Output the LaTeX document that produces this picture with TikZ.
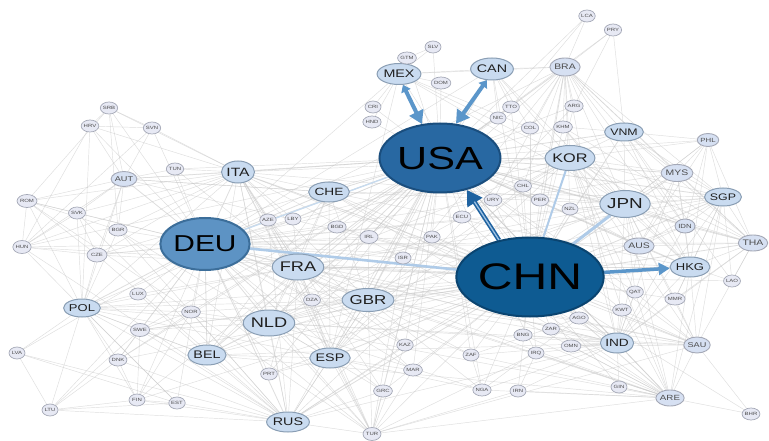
\documentclass[tikz,border=0pt]{standalone}
\usepackage{fontspec}
\newfontfamily\lab[FakeStretch=1.3]{Liberation Sans}
\usetikzlibrary{shapes.geometric,arrows.meta}
\definecolor{smfill}{HTML}{E7E9F4}
\definecolor{smdraw}{HTML}{A4A8B6}
\definecolor{mdfill}{HTML}{C9DBF0}
\definecolor{mddraw}{HTML}{8A9EB4}
\definecolor{mlfill}{HTML}{D6E0F2}
\definecolor{usafill}{HTML}{2868A2}
\definecolor{usadraw}{HTML}{1A4E7E}
\definecolor{chnfill}{HTML}{0E5B92}
\definecolor{chndraw}{HTML}{0A4470}
\definecolor{deufill}{HTML}{5D93C4}
\definecolor{deudraw}{HTML}{3C6E9A}
\definecolor{edgec}{HTML}{C8C8C8}
\definecolor{arrc}{HTML}{5B96CA}
\definecolor{arrd}{HTML}{1E62A0}
\definecolor{lightarr}{HTML}{AFCBE8}
\pgfdeclarelayer{bglayer}
\pgfdeclarelayer{edgelayer}
\pgfdeclarelayer{arrowlayer}
\pgfsetlayers{bglayer,edgelayer,arrowlayer,main}
\begin{document}
\begin{tikzpicture}[x=1pt,y=-1pt,
  fs/.style={font=\lab\fontsize{#1}{#1}\selectfont},
  sm/.style 2 args={ellipse, draw=smdraw, fill=smfill, line width=0.7pt, inner sep=0pt,
     minimum width=#1pt, minimum height=#2pt, fs=4.6, text=black!70},
  md/.style 2 args={ellipse, draw=mddraw, fill=mdfill, line width=1pt, inner sep=0pt,
     minimum width=#1pt, minimum height=#2pt, text=black!88},
  ml/.style 2 args={ellipse, draw=smdraw, fill=mlfill, line width=0.9pt, inner sep=0pt,
     minimum width=#1pt, minimum height=#2pt, text=black!70},
  big/.style={ellipse, inner sep=0pt, line width=2pt, text=black},
  lnk/.style={draw=edgec, line width=0.45pt, opacity=0.6},
  lnkb/.style={draw=edgec, line width=0.8pt, opacity=0.6}]
\begin{pgfonlayer}{bglayer}
\fill[white] (0,0) rectangle (769,441);
\end{pgfonlayer}
\useasboundingbox (0,0) rectangle (769,441);
% big nodes
\node[big, draw=usadraw, fill=usafill, minimum width=93pt, minimum height=69pt, fs=32] (USA) at (440,158) {USA};
\node[big, draw=chndraw, fill=chnfill, minimum width=112pt, minimum height=79pt, fs=37] (CHN) at (530,277) {CHN};
\node[big, draw=deudraw, fill=deufill, minimum width=71pt, minimum height=52pt, fs=23] (DEU) at (205,244) {DEU};
% medium nodes
\node[md={33}{22}, fs=12] (ITA) at (238,172) {ITA};
\node[md={27}{20}, fs=10.5] (CHE) at (329,192) {CHE};
\node[md={36}{26}, fs=14] (FRA) at (298,267) {FRA};
\node[md={33}{23}, fs=13] (GBR) at (368,300) {GBR};
\node[md={38}{26}, fs=14] (NLD) at (269,323) {NLD};
\node[md={28}{20}, fs=11] (BEL) at (207,355) {BEL};
\node[md={28}{20}, fs=11] (ESP) at (330,358) {ESP};
\node[md={28}{20}, fs=11] (RUS) at (288,422) {RUS};
\node[md={32}{21}, fs=11] (MEX) at (399,74) {MEX};
\node[md={32}{22}, fs=11] (CAN) at (492,69) {CAN};
\node[md={34}{25}, fs=12.5] (KOR) at (570,158) {KOR};
\node[md={37}{27}, fs=14.5] (JPN) at (625,204) {JPN};
\node[md={28}{18}, fs=9.5] (VNM) at (624,132) {VNM};
\node[md={25}{18}, fs=9.5] (SGP) at (723,197) {SGP};
\node[md={28}{20}, fs=10] (HKG) at (690,267) {HKG};
\node[md={29}{20}, fs=10.5] (IND) at (617,343) {IND};
\node[md={27}{18}, fs=10] (POL) at (82,308) {POL};
\node[ml={25}{18}, fs=8] (BRA) at (565,67) {BRA};
\node[ml={24}{17}, fs=8] (MYS) at (677,173) {MYS};
\node[ml={23}{16}, fs=8] (AUS) at (639,246) {AUS};
\node[ml={22}{16}, fs=8] (THA) at (753,243) {THA};
\node[ml={22}{15}, fs=7] (AUT) at (124,179) {AUT};
\node[ml={22}{16}, fs=7] (SAU) at (697,345) {SAU};
\node[ml={22}{16}, fs=7.5] (ARE) at (670,398) {ARE};
\node[ml={19}{13}, fs=6] (PHL) at (708,140) {PHL};
\node[ml={20}{14}, fs=6] (IDN) at (685,226) {IDN};
% small nodes
\node[sm={16}{12}] (LCA) at (587,16) {LCA};
\node[sm={16}{12}] (PRY) at (613,30) {PRY};
\node[sm={16}{12}] (GTM) at (407,58) {GTM};
\node[sm={16}{12}] (SLV) at (433,47) {SLV};
\node[sm={16}{12}] (DOM) at (441,83) {DOM};
\node[sm={16}{12}] (CRI) at (373,107) {CRI};
\node[sm={16}{12}] (HND) at (372,122) {HND};
\node[sm={16}{12}] (TTO) at (511,107) {TTO};
\node[sm={16}{12}] (NIC) at (498,118) {NIC};
\node[sm={16}{12}] (COL) at (530,128) {COL};
\node[sm={16}{12}] (ARG) at (574,106) {ARG};
\node[sm={16}{12}] (KHM) at (563,127) {KHM};
\node[sm={16}{12}] (SRB) at (109,108) {SRB};
\node[sm={17}{12}] (HRV) at (90,126) {HRV};
\node[sm={17}{12}] (SVN) at (152,128) {SVN};
\node[sm={16}{12}] (TUN) at (175,169) {TUN};
\node[sm={20}{13}] (ROM) at (27,201) {ROM};
\node[sm={17}{12}] (SVK) at (77,213) {SVK};
\node[sm={16}{12}] (BGR) at (118,230) {BGR};
\node[sm={18}{13}] (HUN) at (22,247) {HUN};
\node[sm={20}{14}] (CZE) at (97,255) {CZE};
\node[sm={16}{12}] (LUX) at (138,294) {LUX};
\node[sm={18}{12}] (NOR) at (191,312) {NOR};
\node[sm={18}{13}] (SWE) at (140,330) {SWE};
\node[sm={16}{12}] (LVA) at (17,353) {LVA};
\node[sm={17}{12}] (DNK) at (118,360) {DNK};
\node[sm={16}{12}] (FIN) at (137,400) {FIN};
\node[sm={16}{12}] (EST) at (177,403) {EST};
\node[sm={16}{12}] (LTU) at (50,410) {LTU};
\node[sm={16}{12}] (AZE) at (268,220) {AZE};
\node[sm={16}{12}] (LBY) at (293,219) {LBY};
\node[sm={16}{12}] (BGD) at (337,227) {BGD};
\node[sm={18}{13}] (IRL) at (369,237) {IRL};
\node[sm={16}{12}] (PAK) at (432,237) {PAK};
\node[sm={16}{12}] (ISR) at (403,258) {ISR};
\node[sm={16}{12}] (ECU) at (462,217) {ECU};
\node[sm={16}{12}] (URY) at (493,200) {URY};
\node[sm={16}{12}] (CHL) at (523,186) {CHL};
\node[sm={16}{12}] (PER) at (540,200) {PER};
\node[sm={16}{12}] (NZL) at (570,209) {NZL};
\node[sm={16}{12}] (DZA) at (312,300) {DZA};
\node[sm={16}{12}] (PRT) at (269,374) {PRT};
\node[sm={16}{12}] (KAZ) at (405,345) {KAZ};
\node[sm={16}{12}] (ZAF) at (471,355) {ZAF};
\node[sm={16}{12}] (MAR) at (413,370) {MAR};
\node[sm={17}{12}] (GRC) at (383,391) {GRC};
\node[sm={16}{12}] (NGA) at (482,390) {NGA};
\node[sm={16}{12}] (IRN) at (518,391) {IRN};
\node[sm={18}{13}] (TUR) at (372,434) {TUR};
\node[sm={16}{12}] (BNG) at (523,335) {BNG};
\node[sm={16}{12}] (ZAR) at (551,329) {ZAR};
\node[sm={16}{12}] (IRQ) at (536,353) {IRQ};
\node[sm={16}{12}] (AGO) at (579,318) {AGO};
\node[sm={16}{12}] (OMN) at (571,346) {OMN};
\node[sm={16}{12}] (QAT) at (635,292) {QAT};
\node[sm={16}{12}] (KWT) at (622,310) {KWT};
\node[sm={16}{12}] (MMR) at (675,299) {MMR};
\node[sm={16}{12}] (LAO) at (732,281) {LAO};
\node[sm={16}{12}] (GIN) at (619,387) {GIN};
\node[sm={16}{12}] (BHR) at (751,414) {BHR};
% grey links
\begin{pgfonlayer}{edgelayer}
\foreach \b in {MEX,CAN,BRA,KOR,JPN,VNM,CHE,ITA,FRA,GBR,NLD,IND,ISR,IRL,SGP,HKG,ARE,ESP,BEL,DEU,MYS,THA,AUS}
  \draw[lnkb] (USA) -- (\b);
\foreach \b in {GTM,SLV,DOM,CRI,HND,TTO,NIC,COL,ARG,KHM,CHL,PER,URY,ECU,PHL,IDN,SAU,PAK,BGD,NGA,ZAF,RUS,TUR,AUT,SWE,NZL,LCA,PRY,AGO,POL,DNK,NOR,FIN,IRQ,KWT,QAT,GRC,PRT,DZA,MAR,TUN,LBY,AZE,KAZ,HUN,CZE}
  \draw[lnk] (USA) -- (\b);
\foreach \b in {JPN,KOR,VNM,MYS,SGP,THA,AUS,IND,BRA,RUS,GBR,FRA,NLD,ITA,ESP,SAU,ARE}
  \draw[lnkb] (CHN) -- (\b);
\foreach \b in {IDN,PHL,BEL,CHE,CAN,MEX,IRN,ZAF,AGO,OMN,IRQ,KWT,QAT,MMR,LAO,BNG,ZAR,NGA,PAK,BGD,CHL,PER,ARG,COL,KHM,NZL,TUR,KAZ,ECU,URY,POL,GIN,MAR,DZA,ISR,IRL,PRT,GRC,BHR,SWE,AUT,CZE,HUN,TTO,DNK,FIN}
  \draw[lnk] (CHN) -- (\b);
\foreach \b in {FRA,NLD,ITA,CHE,AUT,POL,CZE,BEL,ESP,GBR,RUS}
  \draw[lnkb] (DEU) -- (\b);
\foreach \b in {SWE,DNK,HUN,SVK,ROM,BGR,SVN,HRV,SRB,LUX,NOR,FIN,EST,LVA,LTU,TUR,GRC,PRT,IRL,ISR,DZA,AZE,LBY,TUN,KAZ,ZAF,BRA,MEX,CAN,KOR,JPN,IND,SGP,HKG,ARE,SAU,PAK,MAR,BGD,VNM,MYS,THA,AUS}
  \draw[lnk] (DEU) -- (\b);
\foreach \a/\b in {FRA/ITA,FRA/ESP,FRA/BEL,FRA/GBR,FRA/CHE,FRA/NLD,FRA/DZA,FRA/MAR,FRA/TUN,FRA/RUS,FRA/POL,FRA/LUX,FRA/PRT,FRA/TUR,FRA/KOR,FRA/JPN,FRA/IND,FRA/ARE,FRA/SAU,FRA/HKG,FRA/SGP,FRA/KAZ,FRA/AZE,FRA/LBY,
  NLD/BEL,NLD/GBR,NLD/RUS,NLD/NOR,NLD/SWE,NLD/ESP,NLD/ITA,NLD/POL,NLD/KOR,NLD/JPN,NLD/SGP,NLD/SAU,NLD/IND,NLD/BRA,NLD/TUR,NLD/ARE,NLD/NGA,
  GBR/IRL,GBR/ESP,GBR/BEL,GBR/IND,GBR/HKG,GBR/ARE,GBR/SAU,GBR/NOR,GBR/ISR,GBR/JPN,GBR/KOR,GBR/TUR,GBR/CHE,GBR/ZAF,GBR/NGA,GBR/SWE,GBR/ITA,GBR/RUS,GBR/CAN,
  ITA/CHE,ITA/AUT,ITA/ESP,ITA/ROM,ITA/SVN,ITA/HRV,ITA/SRB,ITA/TUN,ITA/LBY,ITA/TUR,ITA/RUS,ITA/POL,ITA/BEL,ITA/GRC,ITA/AZE,ITA/DZA,ITA/BGR,ITA/CZE,ITA/HUN,ITA/SVK,ITA/ARE,ITA/SAU,ITA/KOR,ITA/JPN,
  CHE/AUT,CHE/ESP,CHE/HKG,CHE/IND,CHE/ARE,CHE/JPN,CHE/SGP,CHE/BEL,CHE/NLD,
  ESP/PRT,ESP/BEL,ESP/MAR,ESP/DZA,ESP/TUR,ESP/BRA,ESP/MEX,ESP/NGA,ESP/POL,ESP/RUS,ESP/ARG,ESP/CHL,
  BEL/LUX,BEL/POL,BEL/SWE,BEL/RUS,BEL/IND,BEL/ARE,BEL/ISR,
  RUS/LTU,RUS/LVA,RUS/FIN,RUS/TUR,RUS/KAZ,RUS/POL,RUS/EST,RUS/BGR,RUS/GRC,RUS/JPN,RUS/KOR,RUS/IND,RUS/AZE,RUS/HUN,RUS/CZE,RUS/SVK,RUS/SWE,RUS/DNK,RUS/NOR}
  \draw[lnk] (\a) -- (\b);
\foreach \a/\b in {POL/CZE,POL/LTU,POL/LVA,POL/SWE,POL/HUN,POL/SVK,POL/DNK,POL/NOR,POL/FIN,POL/EST,POL/ROM,POL/BGR,POL/AUT,POL/HRV,POL/GBR,POL/LUX,
  AUT/HUN,AUT/CZE,AUT/SVK,AUT/SVN,AUT/HRV,AUT/SRB,AUT/ROM,AUT/BGR,AUT/TUN,AUT/CHE,
  HRV/SVN,SRB/HRV,SRB/BGR,SRB/SVN,SRB/ROM,SVN/HUN,ROM/HUN,ROM/BGR,ROM/SVK,ROM/CZE,HUN/SVK,HUN/CZE,CZE/SVK,HRV/HUN,
  SWE/NOR,SWE/DNK,SWE/FIN,FIN/EST,DNK/NOR,LTU/LVA,LVA/EST,LTU/EST,FIN/NOR,DNK/FIN,DNK/LTU,SWE/LTU,
  TUR/GRC,TUR/IRQ,TUR/IRN,TUR/ARE,TUR/SAU,TUR/AZE,TUR/ISR,TUR/KAZ,TUR/BGR,TUR/ROM,
  JPN/KOR,JPN/HKG,JPN/SGP,JPN/THA,JPN/AUS,JPN/IDN,JPN/MYS,JPN/PHL,JPN/VNM,JPN/IND,JPN/SAU,JPN/ARE,JPN/QAT,JPN/NZL,JPN/BRA,JPN/CAN,JPN/MEX,JPN/CHL,JPN/KHM,JPN/MMR,
  KOR/VNM,KOR/HKG,KOR/SGP,KOR/MYS,KOR/IDN,KOR/AUS,KOR/IND,KOR/SAU,KOR/PHL,KOR/THA,KOR/BRA,KOR/MEX,KOR/QAT,KOR/KWT,KOR/CHL,KOR/ARE}
  \draw[lnk] (\a) -- (\b);
\foreach \a/\b in {SGP/MYS,SGP/IDN,SGP/THA,SGP/HKG,SGP/PHL,SGP/VNM,SGP/IND,SGP/AUS,SGP/ARE,SGP/SAU,SGP/MMR,SGP/LAO,
  THA/MYS,THA/LAO,THA/MMR,THA/VNM,THA/IDN,THA/HKG,THA/PHL,THA/AUS,THA/IND,THA/KHM,
  HKG/VNM,HKG/MYS,HKG/IDN,HKG/PHL,HKG/IND,HKG/AUS,HKG/ARE,HKG/KHM,HKG/MMR,HKG/LAO,
  MYS/IDN,MYS/PHL,MYS/VNM,MYS/AUS,MYS/IND,PHL/VNM,PHL/IDN,PHL/AUS,IDN/AUS,IDN/VNM,IDN/IND,AUS/NZL,AUS/IND,VNM/KHM,VNM/LAO,
  IND/ARE,IND/SAU,IND/QAT,IND/KWT,IND/OMN,IND/IRQ,IND/BNG,IND/IRN,IND/NGA,IND/ZAF,IND/AGO,IND/MMR,IND/GIN,IND/ZAR,
  ARE/SAU,ARE/BHR,ARE/OMN,ARE/KWT,ARE/QAT,ARE/GIN,ARE/IRN,ARE/IRQ,ARE/PAK,ARE/BNG,ARE/NGA,ARE/ZAF,
  SAU/BHR,SAU/KWT,SAU/QAT,SAU/OMN,SAU/THA,SAU/MMR,SAU/HKG,
  MEX/CAN,BRA/ARG,BRA/LCA,BRA/PRY,ARG/PRY,BRA/CHL,BRA/COL,BRA/PER,BRA/URY,BRA/MEX,BRA/CAN,BRA/VNM,BRA/IND,BRA/SGP,BRA/KHM,BRA/NZL,BRA/HKG,BRA/THA,BRA/IDN,BRA/MYS,
  PRY/VNM,LCA/TTO,MEX/GTM,MEX/SLV,MEX/DOM,MEX/CRI,MEX/HND,MEX/COL,CAN/COL,CAN/KOR,CAN/TTO,CAN/NIC,GTM/SLV,
  NGA/ZAF,FIN/LTU,EST/POL,TUR/MAR,GRC/BGR,KAZ/AZE,ZAF/AGO,IRN/IRQ,NGA/AGO}
  \draw[lnk] (\a) -- (\b);
\end{pgfonlayer}
% highlighted flows
\begin{pgfonlayer}{arrowlayer}
\draw[lightarr, line width=2.6pt] (DEU) -- (CHN);
\draw[lightarr!70, line width=1.3pt] (DEU) -- (USA);
\draw[lightarr, line width=3pt] (CHN) -- (JPN);
\draw[lightarr, line width=2pt] (KOR) -- (CHN);
\draw[arrc, line width=4pt, {Triangle[length=7pt,width=10pt]}-{Triangle[length=13pt,width=15pt]}] (MEX.-70) -- (USA.118);
\draw[arrc, line width=4pt, {Triangle[length=7pt,width=10pt]}-{Triangle[length=13pt,width=15pt]}] (CAN.-115) -- (USA.65);
\draw[arrc, line width=3.5pt, -{Triangle[length=11pt,width=12pt]}] (CHN) -- (HKG);
\draw[arrd, line width=4.5pt, -{Triangle[length=15pt,width=17pt]}] (CHN.130) -- (USA.-50);
\draw[lightarr!80!arrc, line width=1.3pt, shorten >=14pt] (CHN.130) -- (USA.-50);
\end{pgfonlayer}
\end{tikzpicture}
\end{document}
